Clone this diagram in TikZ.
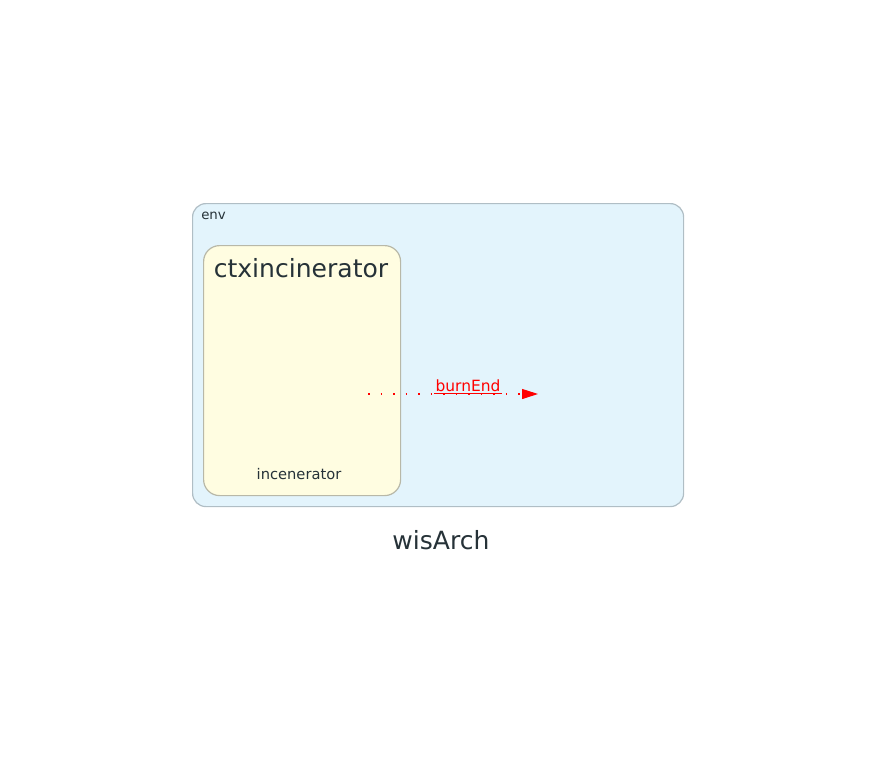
\documentclass[tikz,border=0pt]{standalone}
\usepackage{fontspec}
\setmainfont{DejaVu Sans}
\usepackage{xcolor}
\usetikzlibrary{arrows.meta,positioning}
\definecolor{envFill}{HTML}{E3F4FC}
\definecolor{envRule}{HTML}{B0BEC5}
\definecolor{ctxFill}{HTML}{FFFDE1}
\definecolor{ctxRule}{HTML}{B8B8A8}
\definecolor{inkDark}{HTML}{263238}

\begin{document}
\begin{tikzpicture}[x=0.75pt,y=-0.75pt,font=\fontsize{10}{12}\selectfont,text=inkDark]
    \useasboundingbox (0,0) rectangle (886,757);
    % enclosing environment
    \node[draw=envRule,rounded corners=10pt,fill=envFill,line width=0.9pt,
          minimum width=491*0.75pt,minimum height=303*0.75pt,anchor=north west]
          (env) at (192,203) {};
    \node[anchor=north west,inner sep=0pt] (envlbl) at (201,211.5) {env};
    % incinerator context
    \node[draw=ctxRule,rounded corners=12pt,fill=ctxFill,line width=0.9pt,
          minimum width=197*0.75pt,minimum height=250*0.75pt,anchor=north west]
          (ctx) at (203,245) {};
    \node[font=\fontsize{18.8}{22}\selectfont] (ctxlbl) at (301,268) {ctxincinerator};
    \node[font=\fontsize{11}{13}\selectfont] (actor) at (299,474) {incenerator};
    % event flow
    \coordinate (src) at (368,394);
    \coordinate (dst) at (538,394);
    \draw[red,line width=0.8pt,dash pattern=on 1.2pt off 8.2pt,
          -{Triangle[length=12pt,width=7.5pt]}] (src) -- (dst);
    \node[text=red,font=\fontsize{11.6}{14}\selectfont,anchor=south,inner sep=1pt]
          (burn) at (468,393.5) {burnEnd};
    \draw[red,line width=0.8pt] (burn.south west) -- (burn.south east);
    \node[font=\fontsize{18.8}{22}\selectfont] (title) at (441,540) {wisArch};
  \end{tikzpicture}
\end{document}
